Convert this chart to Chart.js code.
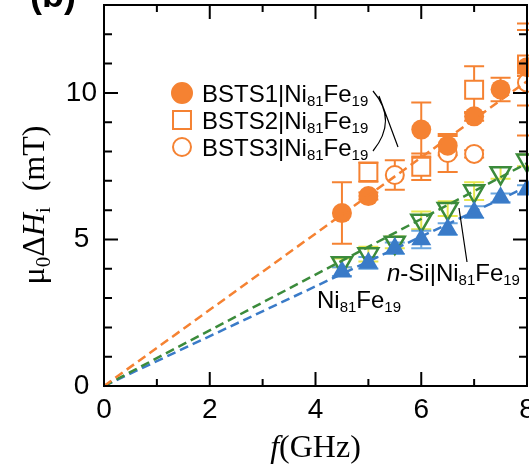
<!DOCTYPE html>
<html>
<head>
<meta charset="utf-8">
<script src="https://cdn.jsdelivr.net/npm/chart.js@4/dist/chart.umd.min.js"></script>
<style>
  html, body { margin: 0; padding: 0; background: #fff; }
  #wrap { width: 529px; height: 467px; position: relative; }
</style>
</head>
<body>
<div id="wrap"><canvas id="chart"></canvas></div>
<script>
// frequencies (GHz) and linewidths (mT)
const bsts1F = [4.5, 5, 6, 6.5, 7, 7.5, 8];
const bsts1Y = [5.9, 6.48, 8.75, 8.2, 9.2, 10.12, 10.88];
const bsts1Err = [1.05, 0.12, 0.92, 0.33, 0.15, 0.4, 0.3];

const bsts2F = [5, 6, 7, 8];
const bsts2Y = [7.3, 7.48, 10.11, 10.97];
const bsts2Err = [0.33, 0.45, 0.8, 1.4];

const bsts3F = [5.5, 6.5, 7, 8];
const bsts3Y = [7.2, 7.95, 7.92, 10.35];
const bsts3Err = [0.5, 0.65, 0.12, 1.8];

const nifeF = [4.5, 5, 5.5, 6, 6.5, 7, 7.5, 8];
const nifeY = [3.9, 4.2, 4.7, 5.0, 5.35, 5.93, 6.42, 6.7];
const nifeErr = [0.15, 0.2, 0.2, 0.3, 0.2, 0.2, 0.15, 0.15];

const nsiF = [4.5, 5, 5.5, 6, 6.5, 7, 7.5, 8];
const nsiY = [4.2, 4.5, 4.9, 5.65, 6.05, 6.65, 7.27, 7.7];
const nsiErr = [0.15, 0.25, 0.2, 0.3, 0.25, 0.3, 0.2, 0.2];

// dashed fit lines (end points)
const fitF = [0, 8];
const fitBsts = [0, 10.4];
const fitNsi = [0, 7.6];
const fitNife = [0, 6.8];

const xTicks = [0, 2, 4, 6, 8];
const yTicks = [0, 5, 10];

const orange = '#f58232';
const blue = '#3a7bc8';
const green = '#3b8b3b';
const yellow = '#e6e64c';
const lightBlue = '#6aa6e0';

const sans = 'Liberation Sans';
const serif = 'Liberation Serif';

const pts = (xs, ys) => xs.map((x, i) => ({x: x, y: ys[i]}));

const errorBars = {
    id: 'errorBars',
    beforeDatasetsDraw(chart) {
        const {ctx, scales: {x, y}} = chart;
        const sets = [
            [nsiF, nsiY, nsiErr, yellow],
            [nifeF, nifeY, nifeErr, lightBlue],
            [bsts3F, bsts3Y, bsts3Err, orange],
            [bsts2F, bsts2Y, bsts2Err, orange],
            [bsts1F, bsts1Y, bsts1Err, orange]
        ];
        ctx.save();
        ctx.lineWidth = 2;
        sets.forEach(([fs, ys, es, col]) => {
            ctx.strokeStyle = col;
            fs.forEach((f, i) => {
                const px = x.getPixelForValue(f);
                const top = y.getPixelForValue(ys[i] + es[i]);
                const bot = y.getPixelForValue(ys[i] - es[i]);
                ctx.beginPath();
                ctx.moveTo(px, top); ctx.lineTo(px, bot);
                ctx.moveTo(px - 10, top); ctx.lineTo(px + 10, top);
                ctx.moveTo(px - 10, bot); ctx.lineTo(px + 10, bot);
                ctx.stroke();
            });
        });
        ctx.restore();
    }
};

const frame = {
    id: 'frame',
    afterDatasetsDraw(chart) {
        const {ctx, chartArea: a, scales: {x, y}} = chart;
        ctx.save();
        ctx.strokeStyle = '#000';
        ctx.lineWidth = 2;
        ctx.strokeRect(a.left, a.top, a.right - a.left, a.bottom - a.top);
        ctx.beginPath();
        for (let v = x.min; v <= x.max; v++) {
            const px = x.getPixelForValue(v);
            const len = v % 2 === 0 ? 14 : 7;
            ctx.moveTo(px, a.bottom); ctx.lineTo(px, a.bottom - len);
            ctx.moveTo(px, a.top); ctx.lineTo(px, a.top + len);
        }
        for (let v = y.min; v <= y.max; v++) {
            const py = y.getPixelForValue(v);
            const len = v % 5 === 0 ? 14 : 8;
            ctx.moveTo(a.left, py); ctx.lineTo(a.left + len, py);
            ctx.moveTo(a.right, py); ctx.lineTo(a.right - len, py);
        }
        ctx.stroke();
        ctx.restore();
    }
};

// draws a run of [text, font, dy] pieces, returns end x
function drawRuns(ctx, runs, x, y) {
    runs.forEach(([t, font, dy]) => {
        ctx.font = font;
        ctx.fillText(t, x, y + dy);
        x += ctx.measureText(t).width;
    });
    return x;
}
function runsWidth(ctx, runs) {
    let w = 0;
    runs.forEach(([t, font]) => { ctx.font = font; w += ctx.measureText(t).width; });
    return w;
}

const nife = (big, small) => [
    ['Ni', big, 0], ['81', small, 4], ['Fe', big, 0], ['19', small, 4]
];

const texts = {
    id: 'texts',
    afterDraw(chart) {
        const {ctx, chartArea: a} = chart;
        const big = '24px ' + sans;
        const small = '15px ' + sans;
        ctx.save();
        ctx.fillStyle = '#000';
        ctx.textBaseline = 'alphabetic';
        ctx.textAlign = 'left';

        // panel tag
        ctx.font = 'bold 36px ' + sans;
        ctx.fillText('(b)', 30, 7);

        // y title
        const yRuns = [
            ['\u03bc', '32px ' + serif, 0], ['0', '21px ' + serif, 6],
            ['\u0394', '32px ' + serif, 0], ['H', 'italic 32px ' + serif, 0],
            ['i', '21px ' + serif, 6], ['  (mT)', '32px ' + serif, 0]
        ];
        ctx.save();
        ctx.translate(44, 205);
        ctx.rotate(-Math.PI / 2);
        drawRuns(ctx, yRuns, -runsWidth(ctx, yRuns) / 2, 0);
        ctx.restore();

        // x title
        const xRuns = [['f', 'italic 32px ' + serif, 0], ['(GHz)', '32px ' + serif, 0]];
        drawRuns(ctx, xRuns, (a.left + a.right) / 2 - runsWidth(ctx, xRuns) / 2, 457);

        // legend
        const rows = [
            ['circle', orange, 10, 0, 'BSTS1'],
            ['rect', '#fff', 12.7, 0, 'BSTS2'],
            ['circle', '#fff', 9, 0, 'BSTS3']
        ];
        rows.forEach(([style, fill, r, rot, name], i) => {
            const base = 102 + i * 27;
            ctx.fillStyle = fill;
            ctx.strokeStyle = orange;
            ctx.lineWidth = 2;
            Chart.helpers.drawPoint(ctx, {pointStyle: style, radius: r, rotation: rot, borderWidth: 2}, 182, base - 9);
            ctx.fillStyle = '#000';
            drawRuns(ctx, [[name + '|', big, 0]].concat(nife(big, small)), 202, base);
        });

        // label texts
        drawRuns(ctx, [['n', 'italic ' + big, 0], ['-Si|', big, 0]].concat(nife(big, small)), 387, 281);
        drawRuns(ctx, nife(big, small), 317, 308);

        // bracket and pointer lines
        ctx.strokeStyle = '#000';
        ctx.lineWidth = 1.2;
        ctx.beginPath();
        ctx.moveTo(373, 91);
        ctx.quadraticCurveTo(398, 120, 373, 151);
        ctx.moveTo(379, 96);
        ctx.lineTo(398, 147);
        ctx.moveTo(459, 208);
        ctx.lineTo(467, 262);
        ctx.stroke();
        ctx.restore();
    }
};

const fitLine = (ys, col) => ({
    data: pts(fitF, ys),
    showLine: true,
    borderColor: col,
    borderWidth: 2.5,
    borderDash: [9, 5],
    pointRadius: 0,
    clip: false
});
const markers = (xs, ys, style, r, fill, col, extra) => Object.assign({
    data: pts(xs, ys),
    showLine: false,
    pointStyle: style,
    pointRadius: r,
    backgroundColor: fill,
    borderColor: col,
    pointBorderWidth: 2,
    clip: false
}, extra || {});

new Chart(document.getElementById('chart'), {
    type: 'scatter',
    data: {
        datasets: [
            fitLine(fitBsts, orange),
            fitLine(fitNsi, green),
            fitLine(fitNife, blue),
            markers(bsts1F, bsts1Y, 'circle', 10, orange, orange, {pointBorderWidth: 0}),
            markers(bsts2F, bsts2Y, 'rect', 12.7, '#fff', orange),
            markers(bsts3F, bsts3Y, 'circle', 9, '#fff', orange),
            markers(nifeF, nifeY, 'triangle', 11.5, blue, blue, {pointBorderWidth: 0}),
            markers(nsiF, nsiY, 'triangle', 11.5, 'rgba(0,0,0,0)', green, {pointRotation: 180, pointBorderWidth: 2.5})
        ]
    },
    options: {
        responsive: true,
        maintainAspectRatio: false,
        animation: false,
        events: [],
        layout: {autoPadding: false, padding: {top: 5, right: 2, left: 0, bottom: 0}},
        plugins: {legend: {display: false}, tooltip: {enabled: false}},
        scales: {
            x: {
                type: 'linear',
                min: 0,
                max: 8,
                grid: {display: false, drawTicks: false},
                border: {display: false},
                ticks: {font: {family: sans, size: 28}, color: '#000', padding: 7, maxRotation: 0, autoSkip: false},
                afterBuildTicks: s => { s.ticks = xTicks.map(v => ({value: v})); },
                afterFit: s => { s.height = 81; s.paddingLeft = 0; s.paddingRight = 0; }
            },
            y: {
                type: 'linear',
                min: 0,
                max: 13,
                grid: {display: false, drawTicks: false},
                border: {display: false},
                ticks: {font: {family: sans, size: 28}, color: '#000', padding: 7, crossAlign: 'center', autoSkip: false},
                afterBuildTicks: s => { s.ticks = yTicks.map(v => ({value: v})); },
                afterFit: s => { s.width = 104; s.paddingTop = 0; s.paddingBottom = 0; }
            }
        }
    },
    plugins: [errorBars, frame, texts]
});
</script>
</body>
</html>
